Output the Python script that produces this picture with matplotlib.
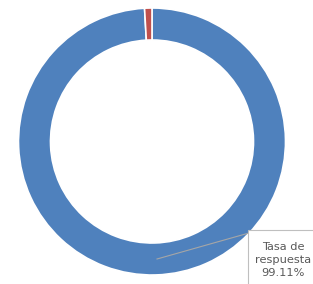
import matplotlib
matplotlib.use("Agg")
import matplotlib.pyplot as plt
from matplotlib.patches import Rectangle

labels = ["Tasa de\nrespuesta", "No respuesta"]
values = [99.11, 0.89]
colors = ["#4f81bd", "#c0504d"]

fig = plt.figure(figsize=(3.13, 2.84), dpi=100)
ax = fig.add_axes([0, 0, 1, 1])

H = 284
cx, cy, r = 152, H - 141.5, 133.5
ax.pie(values, colors=colors, startangle=90, counterclock=False,
       center=(cx, cy), radius=r, frame=True,
       wedgeprops=dict(width=32, edgecolor="white", linewidth=1.2))
ax.set_xlim(0, 313)
ax.set_ylim(0, H)
ax.set_aspect("equal")
ax.axis("off")

# label box
ax.add_patch(Rectangle((248, H - 290), 80, 60, fc="white", ec="#bfbfbf", lw=0.8,
                       clip_on=False, zorder=3))
ax.plot([157, 249], [H - 259, H - 233], color="#a6a6a6", lw=0.8, zorder=2)
ax.text(283, H - 260, f"{labels[0]}\n{values[0]:.2f}%", ha="center", va="center",
        fontsize=8.2, color="#595959", linespacing=1.35, zorder=4)

fig.savefig("out.png", dpi=100)
